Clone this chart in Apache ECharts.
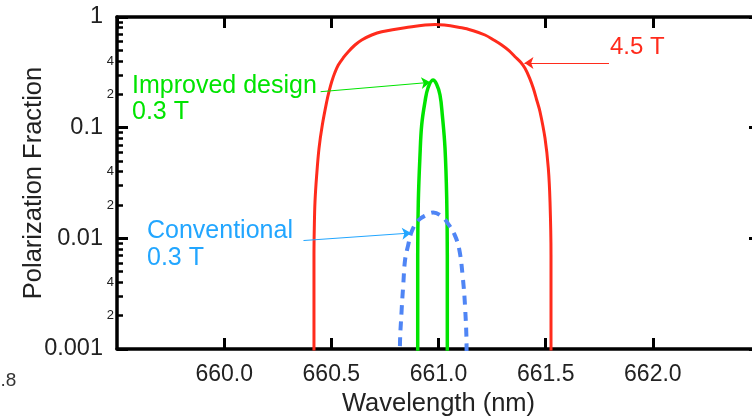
<!DOCTYPE html>
<html>
<head>
<meta charset="utf-8">
<script src="https://cdn.jsdelivr.net/npm/echarts@6/dist/echarts.min.js"></script>
<style>
  html, body { margin: 0; padding: 0; background: #fff; }
  #chart { width: 752px; height: 416px; }
</style>
</head>
<body>
<div id="chart"></div>
<script>
// wavelength (nm) / polarization fraction
const redWave = [660.418, 660.419, 660.419, 660.4205, 660.4238, 660.4317, 660.4425, 660.4579, 660.4784, 660.4891, 660.5017, 660.5171, 660.5325, 660.5559, 660.5792, 660.6104, 660.6417, 660.6884, 660.735, 660.8437, 660.9837, 661.1083, 661.1624, 661.217, 661.2557, 661.2949, 661.3289, 661.357, 661.3835, 661.4036, 661.4255, 661.4424, 661.4582, 661.4736, 661.497, 661.5124, 661.5203, 661.5249, 661.5249, 661.526];
const redFrac = [1e-5, 0.001, 0.00707, 0.01232, 0.02144, 0.03736, 0.0651, 0.1057, 0.1717, 0.2114, 0.2602, 0.3164, 0.3684, 0.4287, 0.4859, 0.5584, 0.6197, 0.6877, 0.7367, 0.8004, 0.8555, 0.8004, 0.7519, 0.6877, 0.6233, 0.5584, 0.496, 0.4378, 0.3897, 0.3439, 0.2793, 0.2268, 0.1778, 0.1394, 0.0801, 0.04294, 0.02144, 0.00707, 0.001, 1e-5];

const greenWave = [660.902, 660.903, 660.903, 660.9058, 660.9137, 660.9216, 660.937, 660.951, 660.9743, 660.9907, 661.007, 661.0178, 661.0304, 661.0383, 661.0411, 661.0411, 661.0415];
const greenFrac = [1e-5, 0.001, 0.00707, 0.02144, 0.0566, 0.1057, 0.1717, 0.2283, 0.2696, 0.248, 0.1973, 0.1302, 0.0651, 0.023, 0.00707, 0.001, 1e-5];

const blueWave = [660.818, 660.820, 660.828, 660.836, 660.844, 660.858, 660.875, 660.905, 660.945, 660.975, 661.015, 661.045, 661.075, 661.097, 661.113, 661.124, 661.131, 661.133];
const blueFrac = [1e-5, 0.001, 0.00224, 0.00391, 0.00636, 0.0086, 0.0115, 0.0145, 0.0163, 0.0171, 0.0158, 0.0135, 0.0108, 0.0079, 0.0045, 0.0024, 0.001, 1e-5];

// annotation arrows [from, to] in data coords
const redArrow = [[661.7955, 0.3841], [661.401, 0.3841]];
const greenArrow = [[660.450, 0.2114], [660.962, 0.2567]];
const blueArrow = [[660.370, 0.00955], [660.872, 0.01117]];

// log axis minor ticks
const decades = [-3, -2, -1];
const minorMantissa = [2, 3, 4, 5, 6, 7, 8, 9];
const labelMantissa = [2, 4];

const minorTicks = [];
const minorLabels = [];
decades.forEach(function (d) {
  minorMantissa.forEach(function (m) {
    minorTicks.push(d + Math.log10(m));
    if (labelMantissa.indexOf(m) >= 0) minorLabels.push(d + Math.log10(m));
  });
});

const zip = (a, b) => a.map((v, i) => [v, b[i]]);

const FONT = 'Liberation Sans';
const RED = '#ff2b1c';
const GREEN = '#00e400';
const BLUE = '#4f85f5';
const BLUE_TXT = '#22a6ff';

const lineAxis = { show: true, onZero: false, lineStyle: { color: '#000', width: 3.5 } };

function majorY(pos, showLabel) {
  return {
    type: 'log', logBase: 10, min: 0.001, max: 1, position: pos,
    axisLine: lineAxis,
    axisTick: { show: true, inside: true, length: 11, lineStyle: { color: '#000', width: 3 } },
    axisLabel: {
      show: showLabel, margin: 14, fontSize: 23.5, fontFamily: FONT, color: '#222',
      formatter: v => String(+v.toPrecision(3))
    },
    splitLine: { show: false }
  };
}
function minorY(pos, showLabel) {
  return {
    type: 'value', min: -3, max: 0, position: pos,
    axisLine: { show: false, onZero: false },
    axisTick: { show: true, inside: true, length: 6, customValues: minorTicks, lineStyle: { color: '#000', width: 2.5 } },
    axisLabel: {
      show: showLabel, margin: 3, fontSize: 13, fontFamily: FONT, color: '#222',
      customValues: minorLabels,
      formatter: v => String(Math.round(Math.pow(10, v - Math.floor(v + 1e-9))))
    },
    splitLine: { show: false }
  };
}
function xAx(pos, showLabel) {
  return {
    type: 'value', min: 659.5, max: 662.5, interval: 0.5, position: pos,
    axisLine: lineAxis,
    axisTick: { show: true, inside: true, length: 11, lineStyle: { color: '#000', width: 3 } },
    axisLabel: {
      show: showLabel, margin: 14, fontSize: 23, fontFamily: FONT, color: '#222',
      showMinLabel: false, showMaxLabel: false,
      formatter: v => v.toFixed(1)
    },
    splitLine: { show: false }
  };
}

function arrow(pts, color) {
  return {
    silent: true, animation: false,
    symbol: ['none', 'arrow'], symbolSize: 9,
    label: { show: false },
    itemStyle: { color: color },
    lineStyle: { color: color, width: 1, type: 'solid' },
    emphasis: { disabled: true },
    data: [[{ coord: pts[0] }, { coord: pts[1] }]]
  };
}

const chart = echarts.init(document.getElementById('chart'), null, { renderer: 'canvas' });

const bottomX = xAx('bottom', true);
bottomX.name = 'Wavelength (nm)';
bottomX.nameLocation = 'middle';
bottomX.nameGap = 42;
bottomX.nameMoveOverlap = false;
bottomX.nameTextStyle = { fontSize: 25.5, fontFamily: FONT, color: '#222' };

const leftY = majorY('left', true);
leftY.name = 'Polarization Fraction';
leftY.nameLocation = 'middle';
leftY.nameGap = 70;
leftY.nameMoveOverlap = false;
leftY.nameTextStyle = { fontSize: 25.5, fontFamily: FONT, color: '#222' };

chart.setOption({
  animation: false,
  backgroundColor: '#fff',
  grid: { left: 117, right: -8, top: 17, bottom: 67, containLabel: false, outerBoundsMode: 'none' },
  xAxis: [bottomX, xAx('top', false)],
  yAxis: [leftY, minorY('left', true), majorY('right', false), minorY('right', false)],
  series: [
    {
      name: '4.5 T', type: 'line', data: zip(redWave, redFrac),
      xAxisIndex: 0, yAxisIndex: 0, showSymbol: false, smooth: 0.35, clip: true,
      lineStyle: { color: RED, width: 3 },
      markLine: arrow(redArrow, RED)
    },
    {
      name: 'Improved design 0.3 T', type: 'line', data: zip(greenWave, greenFrac),
      xAxisIndex: 0, yAxisIndex: 0, showSymbol: false, smooth: 0.4, clip: true,
      lineStyle: { color: GREEN, width: 3.5 },
      markLine: arrow(greenArrow, GREEN)
    },
    {
      name: 'Conventional 0.3 T', type: 'line', data: zip(blueWave, blueFrac),
      xAxisIndex: 0, yAxisIndex: 0, showSymbol: false, smooth: 0.4, clip: true,
      lineStyle: { color: BLUE, width: 4, type: [9, 7] },
      markLine: arrow(blueArrow, BLUE_TXT)
    }
  ],
  graphic: [
    { type: 'text', left: 610, top: 35, style: { text: '4.5 T', fill: RED, font: '24px ' + FONT } },
    { type: 'text', left: 132, top: 73, style: { text: 'Improved design\n0.3 T', fill: GREEN, font: '25px ' + FONT, lineHeight: 26 } },
    { type: 'text', left: 147, top: 218, style: { text: 'Conventional\n0.3 T', fill: BLUE_TXT, font: '25px ' + FONT, lineHeight: 27 } },
    { type: 'text', left: -10, top: 371, style: { text: '0.8', fill: '#333', font: '19px ' + FONT } }
  ]
});
</script>
</body>
</html>
